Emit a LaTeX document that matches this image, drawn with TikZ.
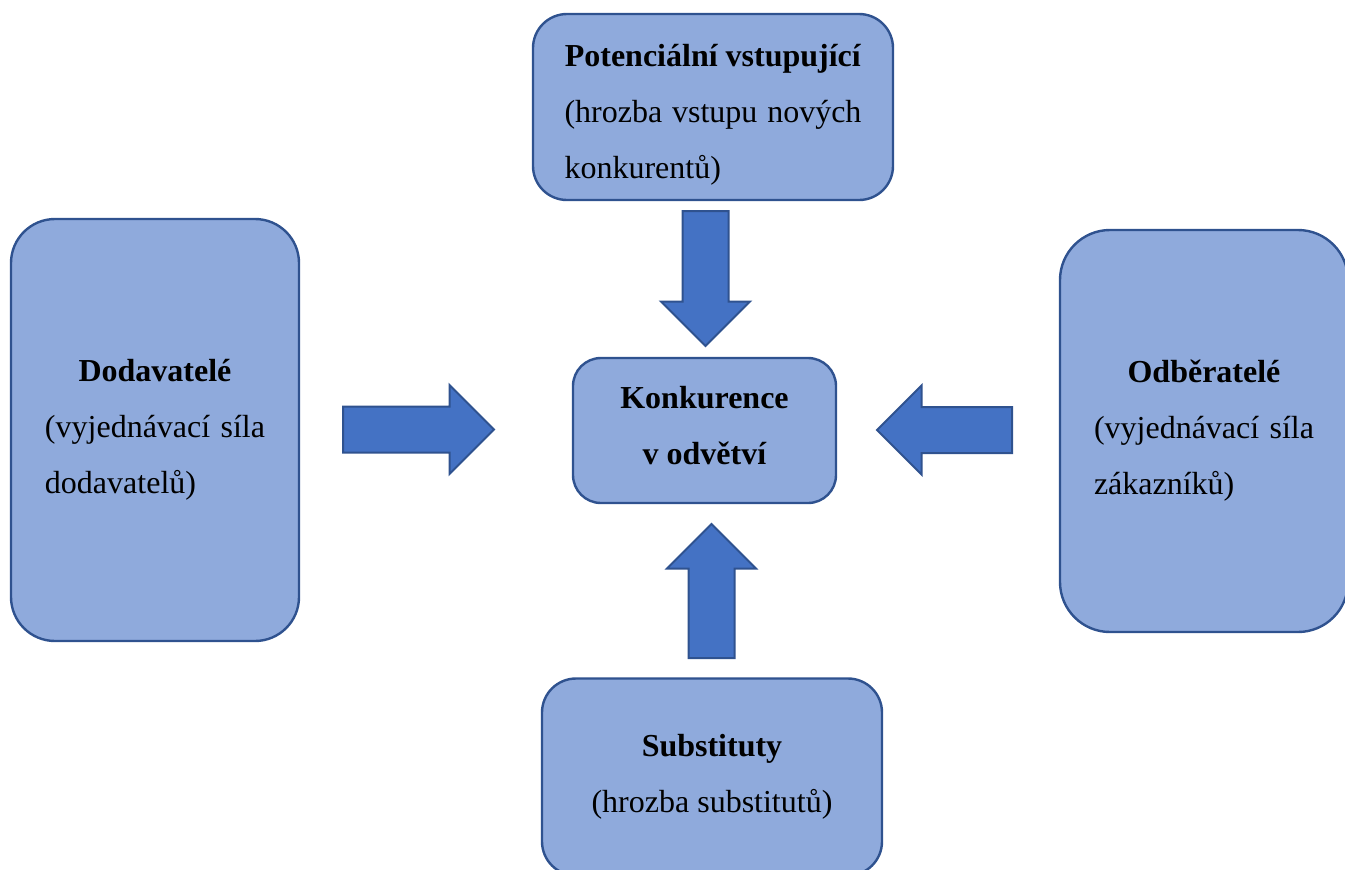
\documentclass[tikz,border=0pt]{standalone}
\usepackage{fontspec}
\setmainfont{Liberation Serif}
\usepackage{tikz}
\usetikzlibrary{positioning, shapes.arrows, calc}
\definecolor{boxblue}{HTML}{8FAADC}
\definecolor{boxline}{HTML}{2F528F}
\definecolor{arrowblue}{HTML}{4472C4}
\tikzset{
    %Define style for boxes
    forcebox/.style={
           rectangle,
           draw=boxline, line width=1.2pt,
           fill=boxblue,
           align=center,
           font=\fontsize{16}{28}\selectfont,
           inner sep=0pt},
 %
  middlebox/.style={
           forcebox,
           rounded corners=14pt,
           font=\fontsize{16}{28}\selectfont\bfseries},
%
    % Define arrow style
    bigarrow/.style={
           single arrow,
           draw=boxline, line width=1pt,
           fill=arrowblue,
           inner xsep=0pt, inner ysep=11pt,
           minimum width=43.5pt,
           single arrow head extend=10.75pt,
           single arrow tip angle=90,
           anchor=tail}
}
% bold heading centred, then one spread line and one left line
\newcommand{\forcetext}[4]{\textbf{#2}\\\makebox[#1][s]{#3}\\\makebox[#1][l]{#4}}

\begin{document}
\begin{tikzpicture}[x=0.5pt, y=-0.5pt]
  \useasboundingbox (0,0) rectangle (1345,869);
  % the five forces
  \node[forcebox, rounded corners=17pt, minimum width=180pt, minimum height=93pt] (pot) at (713,107)
     {\rule{0pt}{18.5pt}\forcetext{148.5pt}{Potenciální vstupující}{(hrozba vstupu nových}{konkurentů)}};
  \node[forcebox, rounded corners=22pt, minimum width=144pt, minimum height=211pt] (dod) at (155,430)
     {\forcetext{110pt}{Dodavatelé}{(vyjednávací síla}{dodavatelů)}};
  \node[forcebox, rounded corners=25pt, minimum width=144pt, minimum height=201pt] (odb) at (1204,431)
     {\forcetext{110pt}{Odběratelé}{(vyjednávací síla}{zákazníků)}};
  \node[middlebox, minimum width=131.5pt, minimum height=72.5pt] (konk) at (704.5,430.5)
     {Konkurence\\v odvětví\rule[-5pt]{0pt}{5pt}};
  \node[forcebox, rounded corners=17pt, minimum width=170pt, minimum height=98.5pt] (sub) at (712,777)
     {\textbf{Substituty}\\(hrozba substitutů)};
  % block arrows towards the middle
  \node[bigarrow, minimum height=75.5pt] (arrL) at (342,429.5) {};
  \node[bigarrow, minimum height=67.5pt, rotate=180] (arrR) at (1013,430) {};
  \node[bigarrow, minimum height=67.5pt, rotate=-90] (arrT) at (705.5,210) {};
  \node[bigarrow, minimum height=67pt, rotate=90] (arrB) at (711.5,659) {};
\end{tikzpicture}
\end{document}
